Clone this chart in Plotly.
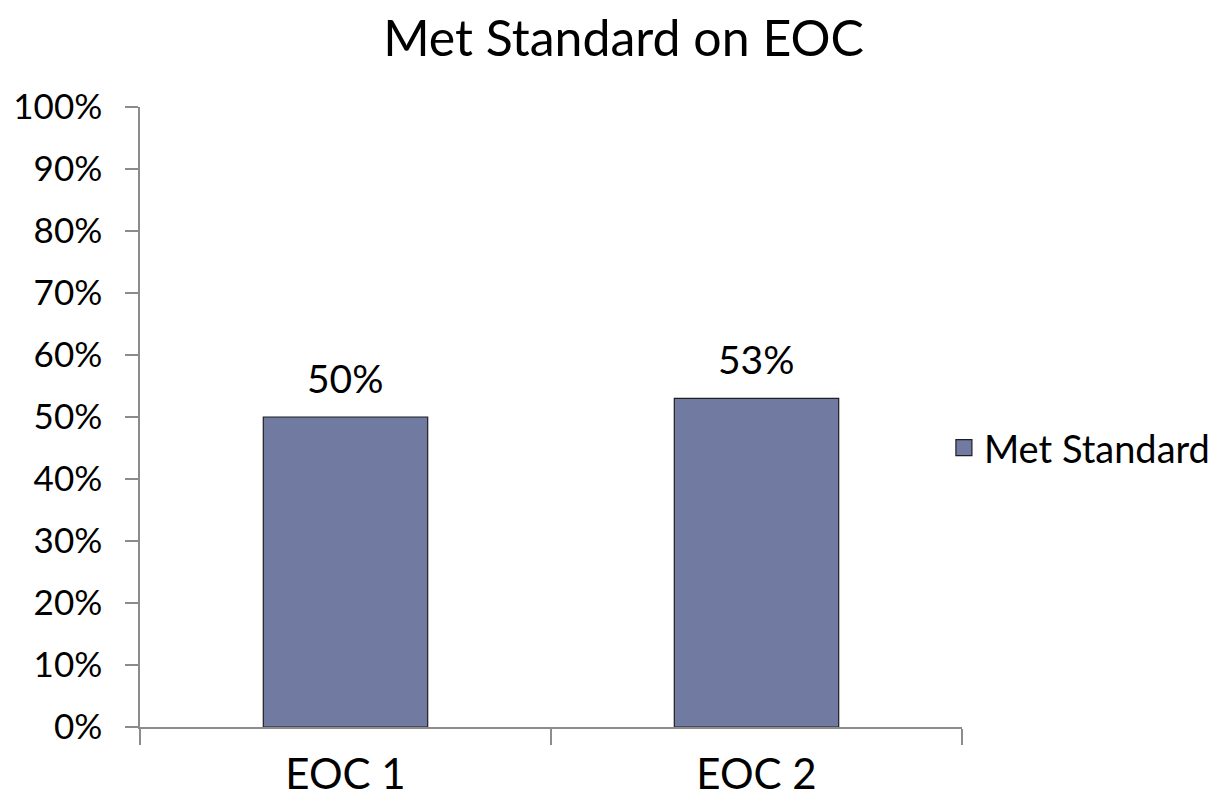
import plotly.graph_objects as go

categories = ["EOC 1", "EOC 2"]
values = [0.50, 0.53]
labels = ["50%", "53%"]
series_name = "Met Standard"
y_ticks = [i / 10 for i in range(11)]
y_tick_text = [f"{i*10}%" for i in range(11)]

FONT = "Lato, Open Sans, DejaVu Sans, sans-serif"
BAR_COLOR = "#717BA2"
EDGE = "#1f1f1f"

fig = go.Figure()
fig.add_trace(go.Bar(
    x=categories, y=values, name=series_name,
    marker=dict(color=BAR_COLOR, line=dict(color=EDGE, width=1.2)),
    width=0.4, showlegend=False,
))
# legend entry with a larger square swatch
fig.add_trace(go.Scatter(
    x=[None], y=[None], mode="markers", name=series_name,
    marker=dict(symbol="square", size=20, color=BAR_COLOR, line=dict(color=EDGE, width=1.2)),
    showlegend=True,
))

for c, v, t in zip(categories, values, labels):
    fig.add_annotation(x=c, y=v, text=t, showarrow=False, yanchor="bottom",
                       yshift=14, font=dict(size=39, color="black", family=FONT))

fig.update_layout(
    width=1219, height=804,
    paper_bgcolor="white", plot_bgcolor="white",
    margin=dict(l=132, r=265, t=99, b=85, autoexpand=False),
    title=dict(text="Met Standard on EOC", x=0.505, xanchor="center", y=0.962, yanchor="middle",
               font=dict(size=50, color="black", family=FONT)),
    font=dict(family=FONT, color="black"),
    showlegend=True,
    legend=dict(x=0.978, y=0.45, xanchor="left", yanchor="middle",
                font=dict(size=38, color="black", family=FONT),
                itemwidth=30, bgcolor="rgba(0,0,0,0)"),
    xaxis=dict(showline=True, linecolor="#8c8c8c", linewidth=1.5,
               ticks="outside", ticklen=16, tickcolor="#8c8c8c", tickwidth=1.5,
               tickson="boundaries", ticklabelstandoff=10, automargin=False,
               tickfont=dict(size=42, color="black", family=FONT),
               showgrid=False, zeroline=False),
    yaxis=dict(range=[0, 1], tickvals=y_ticks, ticktext=y_tick_text,
               showline=True, linecolor="#8c8c8c", linewidth=1.5,
               ticks="outside", ticklen=13, tickcolor="#8c8c8c", tickwidth=1.5,
               ticklabelstandoff=16, automargin=False,
               tickfont=dict(size=35, color="black", family=FONT),
               showgrid=False, zeroline=False),
)

fig.write_html("out.html")
